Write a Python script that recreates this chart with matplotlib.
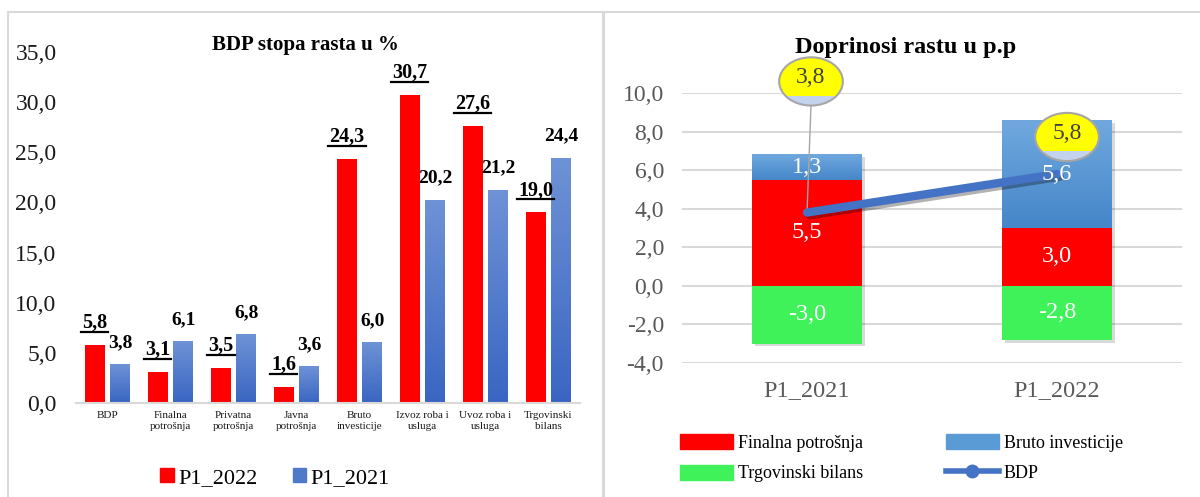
import matplotlib
matplotlib.use("Agg")
import matplotlib.pyplot as plt
import matplotlib.patheffects as pe
import numpy as np
from matplotlib.patches import Patch, Rectangle, Ellipse
from matplotlib.lines import Line2D
from matplotlib.colors import LinearSegmentedColormap

plt.rcParams['font.family'] = ['Liberation Serif', 'DejaVu Serif']

# lijevi grafikon: BDP stopa rasta u %
categories = ["BDP", "Finalna\npotrošnja", "Privatna\npotrošnja", "Javna\npotrošnja",
              "Bruto\ninvesticije", "Izvoz roba i\nusluga", "Uvoz roba i\nusluga", "Trgovinski\nbilans"]
p1_2022 = [5.8, 3.1, 3.5, 1.6, 24.3, 30.7, 27.6, 19.0]
p1_2021 = [3.8, 6.1, 6.8, 3.6, 6.0, 20.2, 21.2, 24.4]

# desni grafikon: doprinosi rastu u p.p
periods = ["P1_2021", "P1_2022"]
finalna = [5.5, 3.0]
bruto = [1.3, 5.6]
trgovinski = [-3.0, -2.8]
bdp = [3.8, 5.8]


def fmt(v):
    return ("%.1f" % v).replace(".", ",")


def gradient(ax, bars, top, bottom):
    cmap = LinearSegmentedColormap.from_list("g", [bottom, top])
    grad = np.linspace(0, 1, 64).reshape(-1, 1)
    for b in bars:
        x0, y0 = b.get_x(), b.get_y()
        w, h = b.get_width(), b.get_height()
        ax.imshow(grad, extent=[x0, x0 + w, y0, y0 + h], origin="lower",
                  aspect="auto", cmap=cmap, zorder=b.get_zorder(), interpolation="bicubic")
        b.set_facecolor("none")


fig = plt.figure(figsize=(12, 4.97), dpi=100)

# okviri panela
fig.add_artist(Rectangle((8 / 1200, -0.05), 595 / 1200, 1.05 - 12 / 497, transform=fig.transFigure,
                         fill=False, ec="#D9D9D9", lw=1.5))
fig.add_artist(Rectangle((604 / 1200, -0.05), 0.6, 1.05 - 12 / 497, transform=fig.transFigure,
                         fill=False, ec="#D9D9D9", lw=1.5))

# ---------- lijevi ----------
ax1 = fig.add_axes([76 / 1200, 1 - 403 / 497, 504 / 1200, 351 / 497])
x = np.arange(len(categories))
w = 0.31
red_bars = ax1.bar(x - 0.2, p1_2022, w, color="#FF0000", zorder=2)
blue_bars = ax1.bar(x + 0.2, p1_2021, w, color="#4F7AC8", zorder=2)
gradient(ax1, blue_bars, "#6E92D6", "#3A66C2")
ax1.set_xlim(-0.5, len(categories) - 0.5)
ax1.set_ylim(0, 35)
ax1.set_yticks(np.arange(0, 36, 5))
ax1.set_yticklabels([fmt(v) for v in np.arange(0, 36, 5)], fontsize=17, color="#1a1a1a")
ax1.set_xticks(x)
ax1.set_xticklabels(categories, fontsize=8, color="#1a1a1a")
ax1.tick_params(axis="y", length=0, pad=14)
ax1.tick_params(axis="x", length=0, pad=6)
for s in ["top", "right", "left"]:
    ax1.spines[s].set_visible(False)
ax1.spines["bottom"].set_color("#D9D9D9")
ax1.spines["bottom"].set_linewidth(1.5)

red_labels = []
for xi, v in zip(x, p1_2022):
    t = ax1.annotate(fmt(v), (xi - 0.2, v), xytext=(0, 16), textcoords="offset points",
                     ha="center", va="center", fontsize=14.5, fontweight="bold")
    red_labels.append(t)
for xi, v in zip(x, p1_2021):
    ax1.annotate(fmt(v), (xi + 0.2, v), xytext=(0, 16), textcoords="offset points",
                 ha="center", va="center", fontsize=14, fontweight="bold")

fig.text(305 / 1200, 1 - 45 / 497, "BDP stopa rasta u %", ha="center", va="center",
         fontsize=15, fontweight="bold")

leg1 = fig.legend([Patch(color="#FF0000"), Patch(color="#4F7AC8")], ["P1_2022", "P1_2021"],
                  loc="center", bbox_to_anchor=(275 / 1200, 1 - 478 / 497), ncol=2, frameon=False,
                  fontsize=16, handlelength=0.6, handleheight=0.6, handletextpad=0.2,
                  columnspacing=1.6)

# ---------- desni ----------
ax2 = fig.add_axes([682 / 1200, 1 - 363 / 497, 500 / 1200, 270 / 497])
xp = np.arange(len(periods))
bw = 0.44
pos_top = [f + b for f, b in zip(finalna, bruto)]
shadow = [pe.SimplePatchShadow(offset=(2, -2), shadow_rgbFace="k", alpha=0.15)]
ax2.bar(xp, pos_top, bw, color="w", zorder=1, path_effects=shadow)
ax2.bar(xp, trgovinski, bw, color="w", zorder=1, path_effects=shadow)
b_fin = ax2.bar(xp, finalna, bw, color="#FF0000", zorder=2)
b_bru = ax2.bar(xp, bruto, bw, bottom=finalna, color="#5B9BD5", zorder=2)
gradient(ax2, b_bru, "#70A8DE", "#4586C9")
b_trg = ax2.bar(xp, trgovinski, bw, color="#3FF25A", zorder=2)

for vals, bottoms in [(finalna, [0, 0]), (bruto, finalna), (trgovinski, [0, 0])]:
    for xi, v, b0 in zip(xp, vals, bottoms):
        ax2.text(xi, b0 + v / 2, fmt(v), ha="center", va="center", color="white", fontsize=17.5,
                 zorder=5)

ax2.plot(xp, bdp, color="#4472C4", lw=6, solid_capstyle="round", zorder=4,
         path_effects=[pe.SimpleLineShadow(offset=(2, -2), alpha=0.3), pe.Normal()])

# oblacici s vrijednostima BDP-a
bubble_off = [(0.016, 6.8), (0.04, 1.92)]
for xi, v, (dx, dy) in zip(xp, bdp, bubble_off):
    cx, cy = xi + dx, v + dy
    ew, eh = 0.255, 2.5
    if dy > 3:
        ax2.plot([cx, xi], [cy - eh / 2, v], color="#A6A6A6", lw=1, zorder=3, clip_on=False)
    ell = Ellipse((cx, cy), ew, eh, fc="#FFFF00", ec="none", zorder=6, clip_on=False)
    ax2.add_patch(ell)
    split = cy - eh / 2 + 0.2 * eh
    low = Rectangle((cx - ew, cy - eh), 2 * ew, split - (cy - eh), fc="#C3D3EE", ec="none",
                    zorder=6.1)
    low.set_clip_path(ell)
    ax2.add_patch(low)
    ax2.add_patch(Ellipse((cx, cy), ew, eh, fc="none", ec="#A6A6A6", lw=1.5, zorder=6.2, clip_on=False))
    ax2.text(cx, cy + 0.2, fmt(v), ha="center", va="center", fontsize=17, color="#404040", zorder=7)

ax2.set_xlim(-0.5, len(periods) - 0.5)
ax2.set_ylim(-4, 10)
yt = np.arange(-4, 11, 2)
ax2.set_yticks(yt)
ax2.set_yticklabels([fmt(v) for v in yt], fontsize=17, color="#595959")
ax2.set_xticks(xp)
ax2.set_xticklabels(periods, fontsize=17.5, color="#595959")
ax2.tick_params(axis="y", length=0, pad=13)
ax2.tick_params(axis="x", length=0, pad=12)
ax2.grid(axis="y", color="#D9D9D9", lw=1.5, zorder=0)
ax2.set_axisbelow(True)
for s in ax2.spines.values():
    s.set_visible(False)

fig.text(906 / 1200, 1 - 47 / 497, "Doprinosi rastu u p.p", ha="center", va="center",
         fontsize=17.5, fontweight="bold")

h_fin = Patch(color="#FF0000")
h_bru = Patch(color="#5B9BD5")
h_trg = Patch(color="#3FF25A")
h_bdp = Line2D([], [], color="#4472C4", lw=4, marker="o", markersize=9)
fig.legend([h_fin, h_trg, h_bru, h_bdp],
           ["Finalna potrošnja", "Trgovinski bilans", "Bruto investicije", "BDP"],
           loc="upper left", bbox_to_anchor=(664 / 1200, 1 - 418 / 497), ncol=2, frameon=False,
           fontsize=13, handlelength=2.9, handleheight=0.9, handletextpad=0.3,
           columnspacing=4.6, labelspacing=0.7)

# podvlacenje crvenih oznaka
fig.canvas.draw()
r = fig.canvas.get_renderer()
inv = fig.transFigure.inverted()
for t in red_labels:
    bb = t.get_window_extent(r)
    (x0, y0), (x1, _) = inv.transform([(bb.x0 - 1, bb.y0 + 1), (bb.x1 + 1, bb.y0 + 1)])
    fig.add_artist(Line2D([x0, x1], [y0, y0], color="black", lw=1.6, transform=fig.transFigure))

fig.savefig("out.png", dpi=100)
